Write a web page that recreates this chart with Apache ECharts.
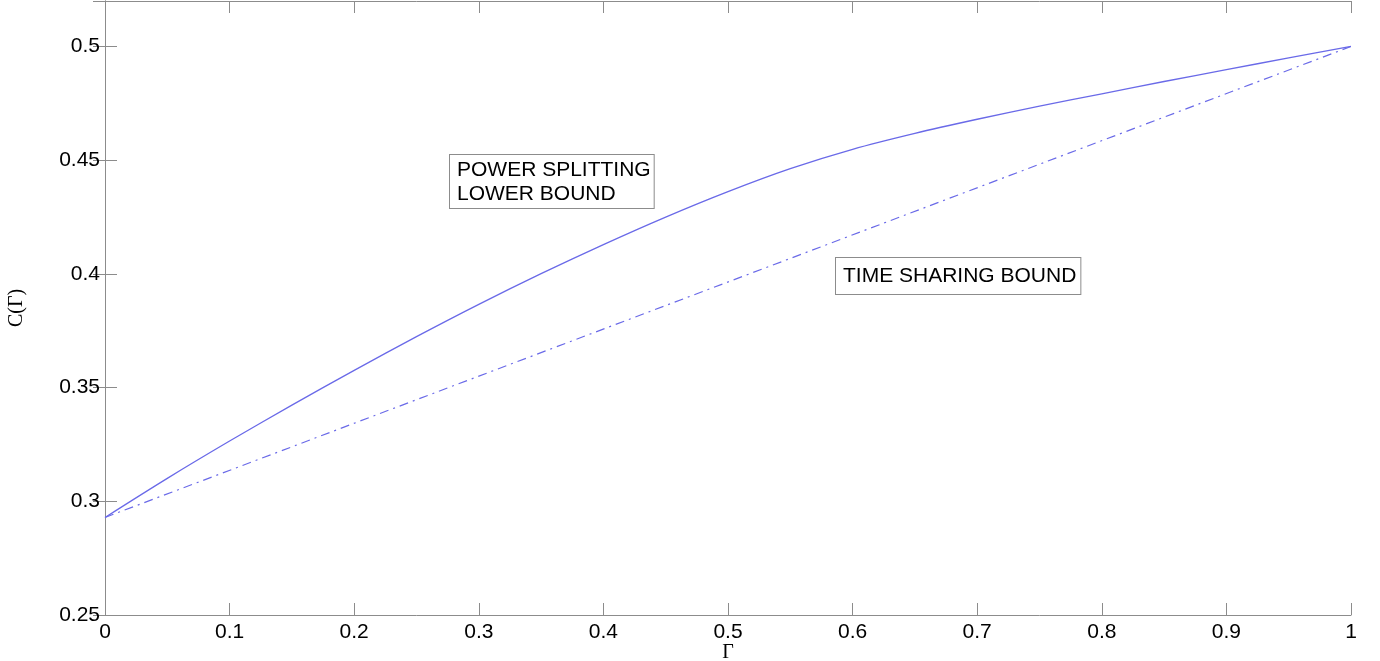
<!DOCTYPE html>
<html>
<head>
<meta charset="utf-8">
<script src="https://cdn.jsdelivr.net/npm/echarts@6/dist/echarts.min.js"></script>
<style>html,body{margin:0;padding:0;background:#fff;}#main{width:1380px;height:661px;}</style>
</head>
<body>
<div id="main"></div>
<script>
var gamma = [0, 0.05, 0.1, 0.15, 0.2, 0.25, 0.3, 0.35, 0.4, 0.45, 0.5, 0.55, 0.6, 0.65, 0.7, 0.75, 0.8, 0.85, 0.9, 0.95, 1];
var powerSplitting = [0.2929, 0.3101, 0.3265, 0.3423, 0.3576, 0.3724, 0.3866, 0.4001, 0.4129, 0.4250, 0.4362, 0.4463, 0.4548, 0.4618, 0.4680, 0.4738, 0.4792, 0.4846, 0.4898, 0.4950, 0.5000];
var timeSharingX = [0, 1];
var timeSharing = [0.2929, 0.5];
var xTicks = { min: 0, max: 1, interval: 0.1 };
var yTicks = { min: 0.25, max: 0.52, interval: 0.05 };
var annotations = ['POWER SPLITTING\nLOWER BOUND', 'TIME SHARING BOUND'];
var xName = 'Γ', yName = 'C(Γ)';

function fmt(v) { return String(parseFloat(v.toFixed(4))); }
function zip(xs, ys) { return xs.map(function (x, i) { return [x, ys[i]]; }); }

var axisGrey = '#8c8c8c';
var tickFont = { color: '#000', fontFamily: 'Liberation Sans, Arial, sans-serif', fontSize: 21 };

var chart = echarts.init(document.getElementById('main'));
chart.setOption({
  backgroundColor: '#fff',
  animation: false,
  grid: { left: 105, right: 29, top: 1, bottom: 46, containLabel: false, outerBoundsMode: 'none' },
  xAxis: [{
    type: 'value', min: xTicks.min, max: xTicks.max, interval: xTicks.interval,
    name: xName, nameLocation: 'middle', nameGap: 28, nameMoveOverlap: false,
    nameTextStyle: { color: '#000', fontFamily: 'Liberation Serif, DejaVu Serif, serif', fontSize: 20 },
    axisLine: { show: true, lineStyle: { color: axisGrey, width: 1 } },
    axisTick: { show: true, inside: true, length: 12, lineStyle: { color: axisGrey } },
    axisLabel: Object.assign({ margin: 7, formatter: fmt }, tickFont),
    splitLine: { show: false }
  }, {
    type: 'value', position: 'top', min: xTicks.min, max: xTicks.max, interval: xTicks.interval,
    axisLine: { show: true, lineStyle: { color: axisGrey, width: 1 } },
    axisTick: { show: true, inside: true, length: 12, lineStyle: { color: axisGrey } },
    axisLabel: { show: false }, splitLine: { show: false }
  }],
  yAxis: [{
    type: 'value', min: yTicks.min, max: yTicks.max, interval: yTicks.interval,
    name: yName, nameLocation: 'middle', nameGap: 78, nameRotate: 90, nameMoveOverlap: false,
    nameTextStyle: { color: '#000', fontFamily: 'Liberation Serif, DejaVu Serif, serif', fontSize: 20 },
    axisLine: { show: true, lineStyle: { color: axisGrey, width: 1 } },
    axisTick: { show: true, inside: true, length: 12, lineStyle: { color: axisGrey } },
    axisLabel: Object.assign({ margin: 5, formatter: fmt, showMaxLabel: false }, tickFont),
    splitLine: { show: false }
  }, {
    type: 'value', position: 'right', min: yTicks.min, max: yTicks.max, interval: yTicks.interval,
    axisLine: { show: true, lineStyle: { color: axisGrey, width: 1 } },
    axisTick: { show: true, inside: true, length: 12, lineStyle: { color: axisGrey } },
    axisLabel: { show: false }, splitLine: { show: false }
  }],
  series: [{
    type: 'line', name: 'Power splitting lower bound', data: zip(gamma, powerSplitting),
    smooth: 0.3, symbol: 'none', lineStyle: { color: '#6a6ae8', width: 1.3 }
  }, {
    type: 'line', name: 'Time sharing bound', data: zip(timeSharingX, timeSharing),
    symbol: 'none', lineStyle: { color: '#6a6ae8', width: 1.2, type: [9, 5, 2, 5] }
  }]
});

chart.setOption({
  graphic: [{
    type: 'text', left: 449, top: 154, z: 100,
    style: {
      text: annotations[0], fill: '#000', font: '21px "Liberation Sans", Arial, sans-serif',
      lineHeight: 24, backgroundColor: '#fff', borderColor: '#8c8c8c', borderWidth: 1,
      padding: [3, 3, 2, 7]
    }
  }, {
    type: 'text', left: 835, top: 257, z: 100,
    style: {
      text: annotations[1], fill: '#000', font: '21px "Liberation Sans", Arial, sans-serif',
      lineHeight: 24, backgroundColor: '#fff', borderColor: '#8c8c8c', borderWidth: 1,
      padding: [6, 4, 6, 7]
    }
  }]
});
</script>
</body>
</html>
